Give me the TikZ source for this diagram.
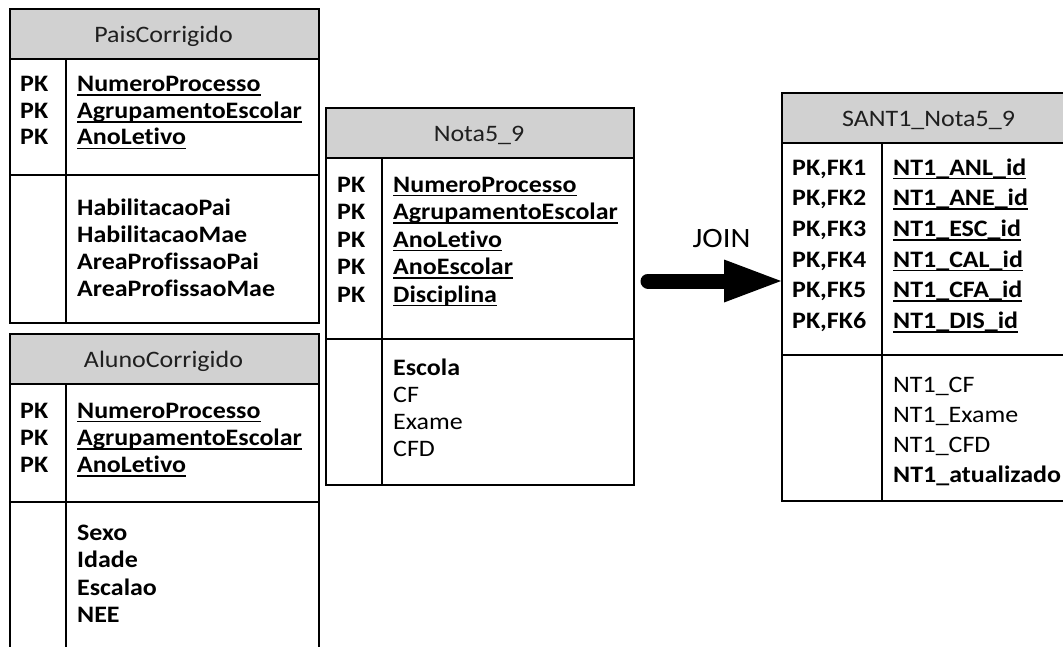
\documentclass[tikz,border=0pt]{standalone}
\usepackage{fontspec}
\setmainfont{Carlito}[FakeStretch=1.1, Ligatures=NoCommon]
\usetikzlibrary{arrows.meta}
\definecolor{hdrgray}{gray}{0.82}
\definecolor{titlecol}{gray}{0.12}
\newcommand\ulx[1]{\setbox0\hbox{#1}\rlap{\rule[-4.4pt]{\wd0}{1.8pt}}\box0}
\tikzset{
  frame/.style={draw=black, line width=1.8pt, inner sep=0pt, anchor=north west},
  hdr/.style={frame, fill=hdrgray},
  txt/.style={inner sep=0pt, anchor=base west, font=\fontsize{23.6}{27}\selectfont},
  ttl/.style={inner sep=0pt, anchor=base, text=titlecol, font=\fontsize{23.6}{27}\selectfont},
  divider/.style={draw=black, line width=1.8pt},
}
% #1 name, #2 x0, #3 x1, #4 xc, #5 top, #6 header bottom, #7 key bottom, #8 bottom, #9 title
\newcommand\mktable[9]{%
  \node[hdr, minimum width={#3-#2}, minimum height={#6-#5}] (#1) at (#2,#5) {};
  \node[ttl] (#1title) at ({(#2+#3)/2},{#6-16}) {#9};
  \node[frame, minimum width={#3-#2}, minimum height={#7-#6}] (#1keys) at (#2,#6) {};
  \node[frame, minimum width={#3-#2}, minimum height={#8-#7}] (#1attrs) at (#2,#7) {};
  \coordinate (#1divtop) at (#4,#6);
  \coordinate (#1divbot) at (#4,#8);
  \draw[divider] (#1divtop) -- (#1divbot);
}
% #1 name, #2 x, #3 first baseline, #4 step, #5 list
\newcommand\rows[5]{%
  \foreach \t [count=\i from 0] in {#5} {\node[txt] (#1\i) at (#2,{#3+\i*#4}) {\t};}%
}
\begin{document}
\begin{tikzpicture}[x=1pt,y=-1pt]
\useasboundingbox (0,0) rectangle (1063,646);
\clip (0,0) rectangle (1063,646);

% PaisCorrigido
\mktable{pais}{9}{318}{66}{8}{58}{174}{322}{PaisCorrigido}
\rows{paispk}{20}{91.5}{26.7}{\textbf{PK},\textbf{PK},\textbf{PK}}
\rows{paisf}{77}{91.5}{26.7}{\textbf{\ulx{NumeroProcesso}},\textbf{\ulx{AgrupamentoEscolar}},\textbf{\ulx{AnoLetivo}}}
\rows{paisa}{77}{215}{27.2}{\textbf{HabilitacaoPai},\textbf{HabilitacaoMae},\textbf{AreaProfissaoPai},\textbf{AreaProfissaoMae}}

% AlunoCorrigido
\mktable{aluno}{9}{318}{66}{333}{383}{501}{665}{AlunoCorrigido}
\rows{alunopk}{20}{418}{27.3}{\textbf{PK},\textbf{PK},\textbf{PK}}
\rows{alunof}{77}{418}{27.3}{\textbf{\ulx{NumeroProcesso}},\textbf{\ulx{AgrupamentoEscolar}},\textbf{\ulx{AnoLetivo}}}
\rows{alunoa}{77}{540}{27.5}{\textbf{Sexo},\textbf{Idade},\textbf{Escalao},\textbf{NEE}}

% Nota5_9
\mktable{nota}{325}{633}{382}{107}{157}{338}{484}{Nota5\_9}
\rows{notapk}{337}{192}{27.5}{\textbf{PK},\textbf{PK},\textbf{PK},\textbf{PK},\textbf{PK}}
\rows{notaf}{393}{192}{27.5}{\textbf{\ulx{NumeroProcesso}},\textbf{\ulx{AgrupamentoEscolar}},\textbf{\ulx{AnoLetivo}},\textbf{\ulx{AnoEscolar}},\textbf{\ulx{Disciplina}}}
\rows{notaa}{393}{375}{27.3}{\textbf{Escola},CF,Exame,CFD}

% SANT1_Nota5_9
\mktable{sant}{781}{1076}{882}{92}{142}{354}{500}{SANT1\_Nota5\_9}
\rows{santpk}{792}{175}{30.67}{\textbf{PK,FK1},\textbf{PK,FK2},\textbf{PK,FK3},\textbf{PK,FK4},\textbf{PK,FK5},\textbf{PK,FK6}}
\rows{santf}{893}{175}{30.67}{\textbf{\ulx{NT1\_ANL\_id}},\textbf{\ulx{NT1\_ANE\_id}},\textbf{\ulx{NT1\_ESC\_id}},\textbf{\ulx{NT1\_CAL\_id}},\textbf{\ulx{NT1\_CFA\_id}},\textbf{\ulx{NT1\_DIS\_id}}}
\rows{santa}{893}{392}{30.3}{NT1\_CF,NT1\_Exame,NT1\_CFD,\textbf{NT1\_atualizado}}

% JOIN arrow
\node[inner sep=0pt, anchor=base, font=\fontsize{28}{31}\selectfont] (join) at (721.5,247) {JOIN};
\coordinate (joinstart) at (648,281);
\draw[line width=15pt, line cap=round,
  -{Triangle[length=57pt 0 0, width=43pt 0 0, line width=0pt]}]
  (joinstart) -- (joinstart -| santkeys.west);
\end{tikzpicture}
\end{document}
